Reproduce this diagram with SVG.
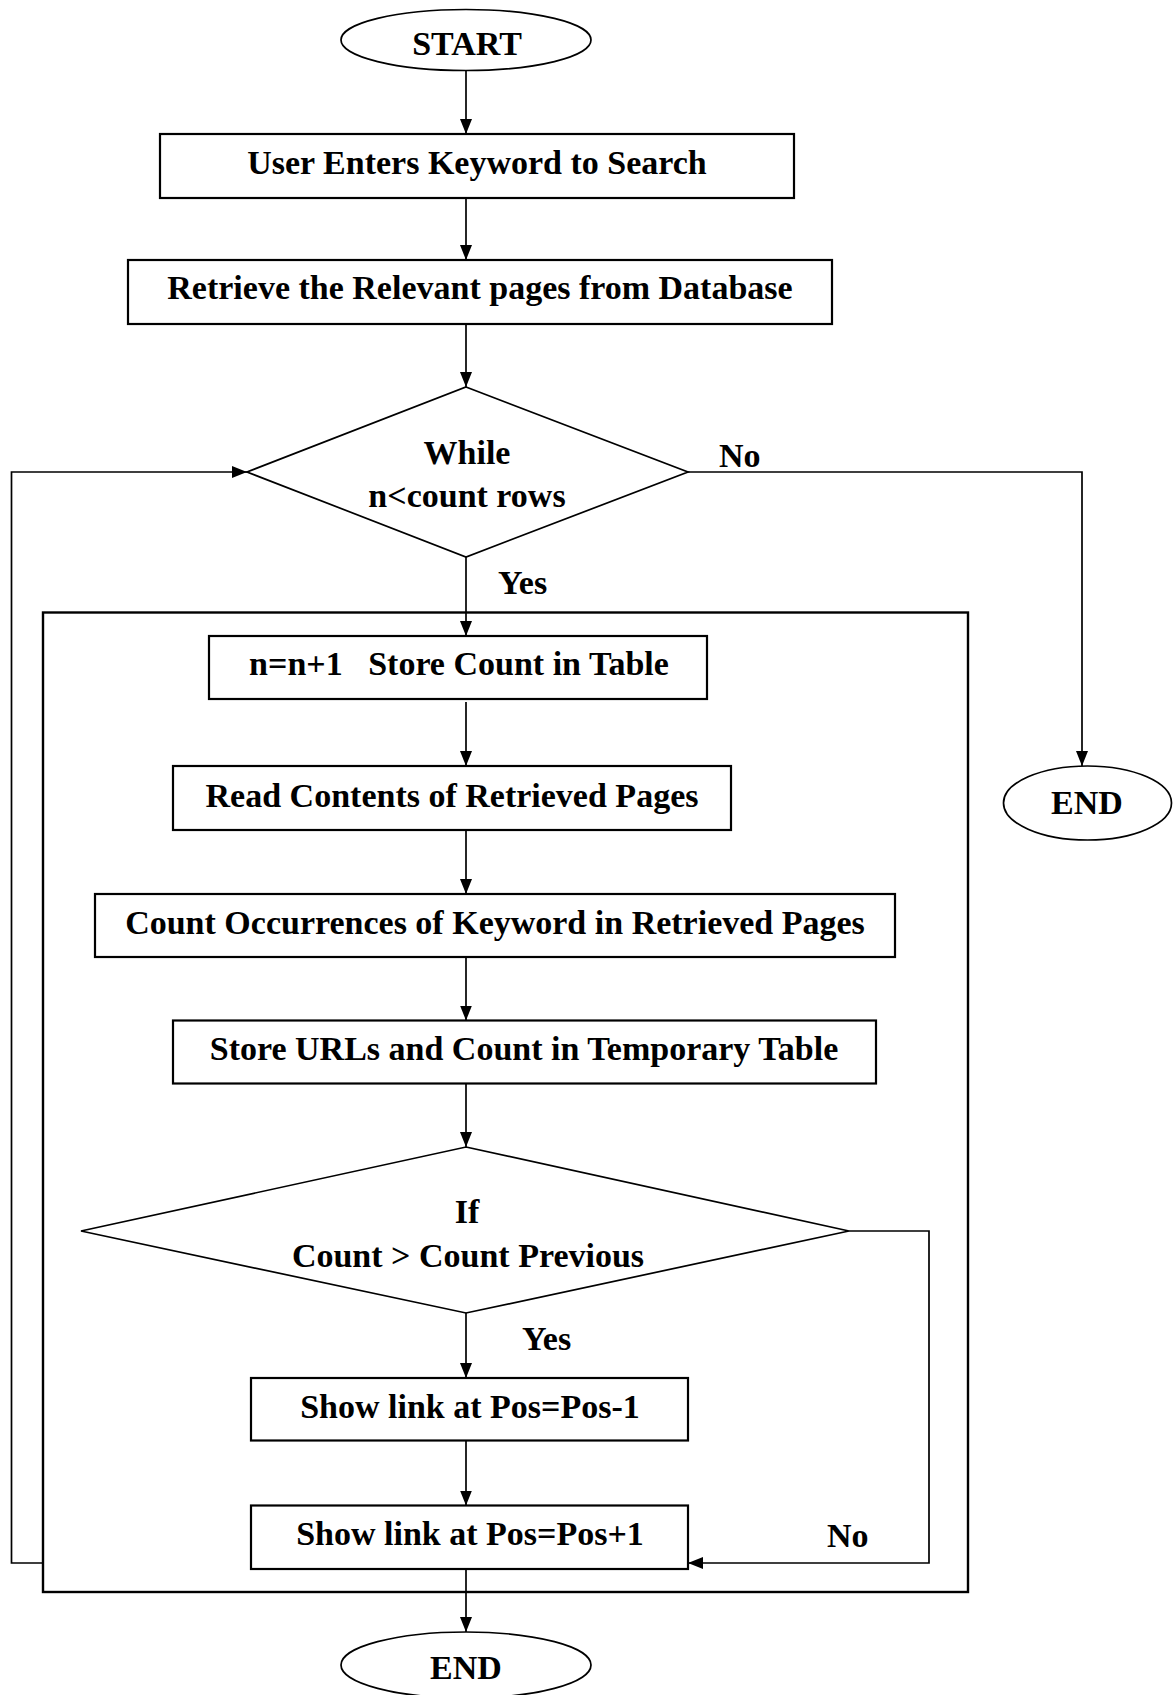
<svg xmlns="http://www.w3.org/2000/svg" width="1173" height="1695" viewBox="0 0 1173 1695">
<style>
  .t { font-family: "Liberation Serif", "Times New Roman", serif; font-weight: bold; font-size: 34px; fill: #000; }
  .m { text-anchor: middle; }
  .box { fill: #fff; stroke: #000; stroke-width: 2.2; }
  .shape { fill: #fff; stroke: #000; stroke-width: 1.7; }
  .frame { fill: none; stroke: #000; stroke-width: 2.4; }
  .c { fill: none; stroke: #000; stroke-width: 1.7; }
</style>
<defs>
  <marker id="arr" markerUnits="userSpaceOnUse" markerWidth="15" markerHeight="12" refX="15" refY="6" orient="auto">
    <path d="M0,0 L15,6 L0,12 z" fill="#000"/>
  </marker>
</defs>
<rect width="1173" height="1695" fill="#fff"/>

<g id="loop-frame">
  <rect class="frame" x="43" y="612.5" width="925" height="979.5"/>
</g>

<g id="connectors">
  <line class="c" x1="466" y1="70.5" x2="466" y2="134" marker-end="url(#arr)"/>
  <line class="c" x1="466" y1="198" x2="466" y2="260" marker-end="url(#arr)"/>
  <line class="c" x1="466" y1="324" x2="466" y2="387" marker-end="url(#arr)"/>
  <line class="c" x1="466" y1="557" x2="466" y2="636" marker-end="url(#arr)"/>
  <line class="c" x1="466" y1="702" x2="466" y2="766" marker-end="url(#arr)"/>
  <line class="c" x1="466" y1="830" x2="466" y2="894" marker-end="url(#arr)"/>
  <line class="c" x1="466" y1="957" x2="466" y2="1020.5" marker-end="url(#arr)"/>
  <line class="c" x1="466" y1="1083.5" x2="466" y2="1147" marker-end="url(#arr)"/>
  <line class="c" x1="466" y1="1313" x2="466" y2="1378" marker-end="url(#arr)"/>
  <line class="c" x1="466" y1="1440.5" x2="466" y2="1505.5" marker-end="url(#arr)"/>
  <line class="c" x1="466" y1="1569" x2="466" y2="1632" marker-end="url(#arr)"/>
  <polyline class="c" points="688,472 1082,472 1082,766" marker-end="url(#arr)"/>
  <polyline class="c" points="849,1231 929,1231 929,1563 688,1563" marker-end="url(#arr)"/>
  <polyline class="c" points="43,1563 11.5,1563 11.5,472 247,472" marker-end="url(#arr)"/>
  <text class="t" x="719" y="467">No</text>
  <text class="t" x="498" y="594">Yes</text>
  <text class="t" x="522" y="1350">Yes</text>
  <text class="t" x="827" y="1546.5">No</text>
</g>

<g id="start">
  <ellipse class="shape" cx="466" cy="40" rx="125" ry="30.5"/>
  <text class="t m" x="467" y="55">START</text>
</g>

<g id="user-enters">
  <rect class="box" x="160" y="134" width="634" height="64"/>
  <text class="t m" x="477" y="173.5">User Enters Keyword to Search</text>
</g>

<g id="retrieve">
  <rect class="box" x="128" y="260" width="704" height="64"/>
  <text class="t m" x="480" y="298.5">Retrieve the Relevant pages from Database</text>
</g>

<g id="while">
  <polygon class="shape" points="466,387 688,472 466,557 247,472"/>
  <text class="t m" x="467" y="464">While</text>
  <text class="t m" x="467" y="506.5">n&lt;count rows</text>
</g>

<g id="end-right">
  <ellipse class="shape" cx="1087.5" cy="803" rx="84" ry="37"/>
  <text class="t m" x="1087" y="814">END</text>
</g>

<g id="store-count">
  <rect class="box" x="209" y="636" width="498" height="63"/>
  <text class="t m" x="459" y="674.5" xml:space="preserve">n=n+1   Store Count in Table</text>
</g>

<g id="read-contents">
  <rect class="box" x="173" y="766" width="558" height="64"/>
  <text class="t m" x="452" y="806.5">Read Contents of Retrieved Pages</text>
</g>

<g id="count-occurrences">
  <rect class="box" x="95" y="894" width="800" height="63"/>
  <text class="t m" x="495" y="933.5">Count Occurrences of Keyword in Retrieved Pages</text>
</g>

<g id="store-urls">
  <rect class="box" x="173" y="1020.5" width="703" height="63"/>
  <text class="t m" x="524" y="1060">Store URLs and Count in Temporary Table</text>
</g>

<g id="if">
  <polygon class="shape" points="466,1147 849,1231 466,1313 81,1231"/>
  <text class="t m" x="467" y="1222.5">If</text>
  <text class="t m" x="468" y="1266.5">Count &gt; Count Previous</text>
</g>

<g id="show-minus">
  <rect class="box" x="251" y="1378" width="437" height="62.5"/>
  <text class="t m" x="470" y="1417.5">Show link at Pos=Pos-1</text>
</g>

<g id="show-plus">
  <rect class="box" x="251" y="1505.5" width="437" height="63.5"/>
  <text class="t m" x="470" y="1544.5">Show link at Pos=Pos+1</text>
</g>

<g id="end-bottom">
  <ellipse class="shape" cx="466" cy="1665" rx="125" ry="33"/>
  <text class="t m" x="466" y="1679">END</text>
</g>
</svg>
